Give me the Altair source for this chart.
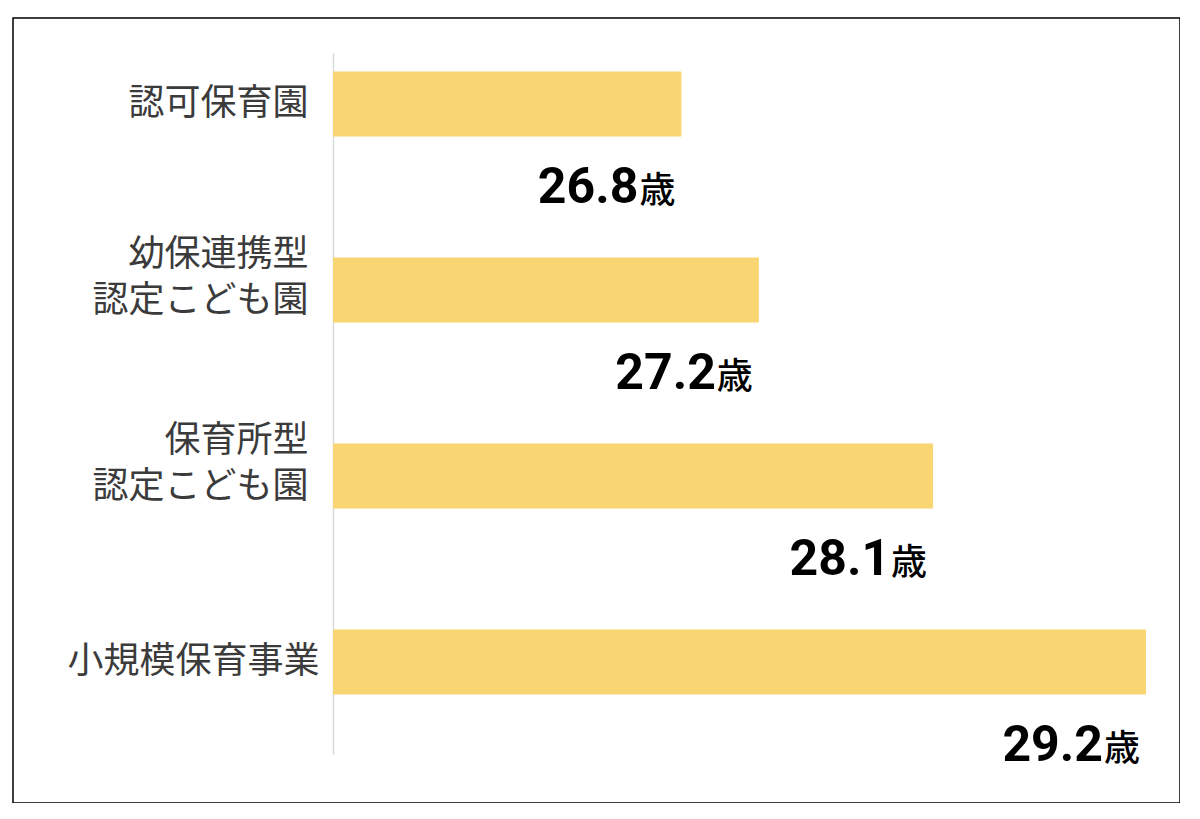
import altair as alt
import pandas as pd

categories = ["認可保育園", "幼保連携型\n認定こども園", "保育所型\n認定こども園", "小規模保育事業"]
ages = [26.8, 27.2, 28.1, 29.2]
unit = "歳"

df = pd.DataFrame({"cat": categories, "age": ages})
df["num"] = df["age"].map(lambda v: f"{v:.1f}")
df["unit"] = unit
df["base"] = 25.0

xscale = alt.Scale(domain=[25, 29.2], range=[320, 1133], zero=False, nice=False)
yscale = alt.Scale(domain=categories, range=[35, 736], paddingInner=0.6505,
                   paddingOuter=0.2097, align=0.237)

y_axis = alt.Axis(
    title=None, ticks=False, grid=False, offset=-320,
    domainColor="#d9d9d9", domainWidth=1.5,
    labelFont="Noto Sans CJK JP", labelFontSize=36, labelColor="#3b3b3b",
    labelPadding={"condition": {"test": "datum.value == '小規模保育事業'", "value": 14}, "value": 25},
    labelOffset={"condition": {"test": "indexof(datum.value, '\\n') >= 0", "value": -35}, "value": 0},
    labelLineHeight=46, labelLimit=400,
    labelExpr="split(datum.label, '\\n')",
)

base = alt.Chart(df)

bars = base.mark_bar(color="#FAD673").encode(
    x=alt.X("base:Q", scale=xscale, axis=None),
    x2="age:Q",
    y=alt.Y("cat:N", scale=yscale, axis=y_axis, sort=categories),
)

nums = base.mark_text(
    align="right", baseline="alphabetic", dx=-43, dy=99,
    font="Roboto", fontSize=50, fontWeight="bold", color="#000000",
).encode(
    x=alt.X("age:Q", scale=xscale, axis=None),
    y=alt.Y("cat:N", scale=yscale, sort=categories),
    text="num:N",
)

units = base.mark_text(
    align="right", baseline="alphabetic", dx=-6, dy=99,
    font="Noto Sans CJK JP", fontSize=36, fontWeight=500, color="#000000",
).encode(
    x=alt.X("age:Q", scale=xscale, axis=None),
    y=alt.Y("cat:N", scale=yscale, sort=categories),
    text="unit:N",
)

chart = alt.layer(bars, nums, units).properties(
    width=1167, height=785,
    autosize=alt.AutoSizeParams(type="none"),
    padding={"left": 5, "top": 10, "right": 0, "bottom": 0},
    background="#ffffff",
).configure_view(stroke="#000000", strokeWidth=1.5)

chart.save("out.html", embed_options={"renderer": "svg", "actions": False})
